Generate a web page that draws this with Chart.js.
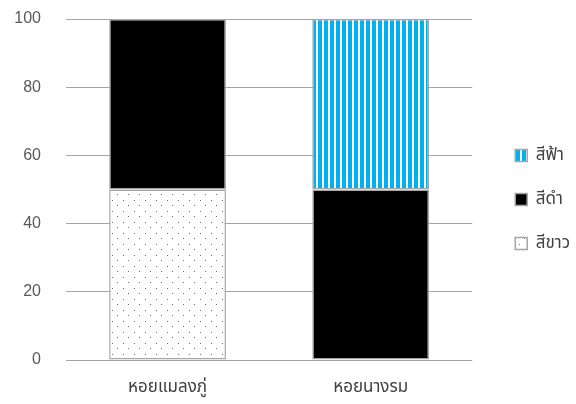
<!DOCTYPE html>
<html>
<head>
<meta charset="utf-8">
<script src="https://cdn.jsdelivr.net/npm/chart.js@4.4.0/dist/chart.umd.min.js"></script>
<style>
  html, body { margin: 0; padding: 0; background: #fff; overflow: hidden; width: 576px; height: 404px; }
  #wrap { position: relative; width: 580px; height: 404px; }
</style>
</head>
<body>
<div id="wrap"><canvas id="chart"></canvas></div>
<script>
// data
const categories = ['หอยแมลงภู่', 'หอยนางรม'];
const seriesNames = ['สีขาว', 'สีดำ', 'สีฟ้า'];
const whiteVals = [50, 0];
const blackVals = [50, 50];
const blueVals = [0, 50];
const yTicks = [0, 20, 40, 60, 80, 100];

const FONT = "'Liberation Sans', 'Noto Sans Thai', 'Noto Sans', sans-serif";

// fill patterns
function dotPattern() {
  const c = document.createElement('canvas');
  c.width = 11; c.height = 11;
  const g = c.getContext('2d');
  g.fillStyle = '#fff'; g.fillRect(0, 0, 11, 11);
  g.fillStyle = '#6b6b6b';
  g.fillRect(2, 2, 1, 1);
  g.fillRect(7, 7, 1, 1);
  return g.createPattern(c, 'repeat');
}
function stripePattern() {
  const c = document.createElement('canvas');
  c.width = 6; c.height = 1;
  const g = c.getContext('2d');
  g.fillStyle = '#fff'; g.fillRect(0, 0, 6, 1);
  g.fillStyle = '#00b0f0'; g.fillRect(0, 0, 4, 1);
  return g.createPattern(c, 'repeat');
}

const border = '#a6a6a6';
const common = { borderColor: border, borderWidth: 1.5, borderSkipped: false, barPercentage: 0.575, categoryPercentage: 1 };

const ctx = document.getElementById('chart').getContext('2d');
new Chart(ctx, {
  type: 'bar',
  data: {
    labels: categories,
    datasets: [
      { label: seriesNames[0], data: whiteVals, backgroundColor: dotPattern(), ...common },
      { label: seriesNames[1], data: blackVals, backgroundColor: '#000000', ...common },
      { label: seriesNames[2], data: blueVals, backgroundColor: stripePattern(), ...common }
    ]
  },
  options: {
    responsive: true, maintainAspectRatio: false, animation: false,
    layout: { padding: { top: 0, bottom: 5, left: 0, right: 0 } },
    plugins: {
      tooltip: { enabled: false },
      legend: {
        position: 'right', reverse: true,
        labels: { boxWidth: 12, boxHeight: 12, padding: 27, color: '#404040', font: { family: FONT, size: 17 } }
      }
    },
    scales: {
      x: {
        stacked: true,
        afterFit: s => { s.height = 39; },
        grid: { display: false },
        border: { display: false },
        ticks: { color: '#404040', padding: 9, maxRotation: 0, autoSkip: false, font: { family: FONT, size: 17 } }
      },
      y: {
        stacked: true, min: 0, max: 100,
        afterFit: s => { s.width = 66; },
        afterBuildTicks: s => { s.ticks = yTicks.map(v => ({ value: v })); },
        grid: { color: '#a6a6a6', lineWidth: 1, drawTicks: true, tickLength: 15.6, tickColor: 'rgba(0,0,0,0)' },
        border: { display: false },
        ticks: { color: '#595959', padding: 9.4, font: { family: FONT, size: 16 } }
      },
      y2: {
        position: 'right', display: true,
        afterFit: s => { s.width = 16; },
        grid: { display: false }, border: { display: false },
        ticks: { display: false }
      }
    }
  }
});
</script>
</body>
</html>
